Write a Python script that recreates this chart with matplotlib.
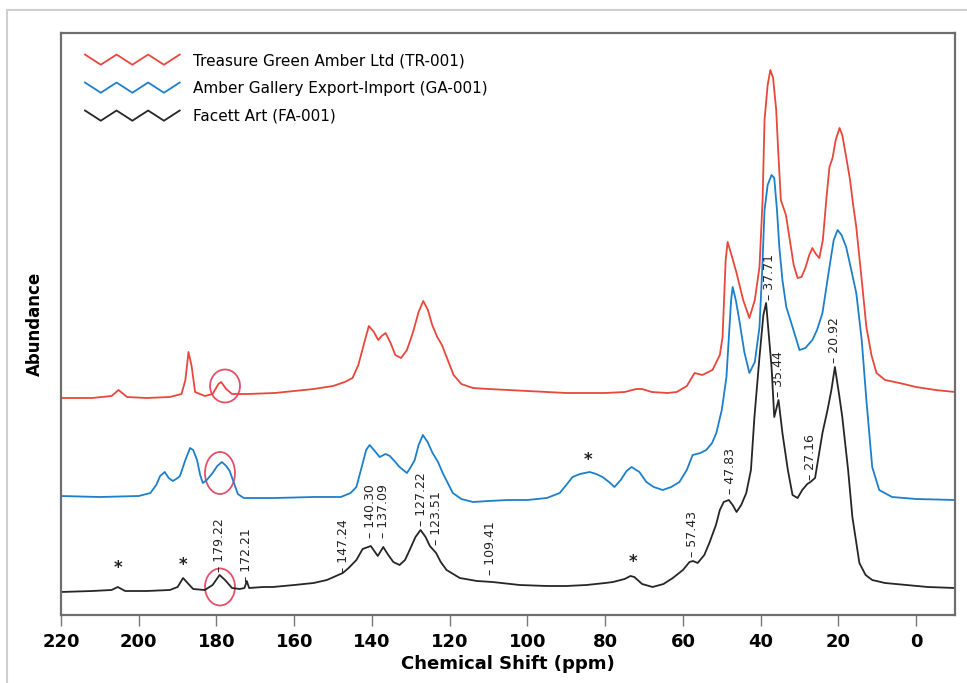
import numpy as np
import matplotlib
matplotlib.use("Agg")
import matplotlib.pyplot as plt
from matplotlib import font_manager
from matplotlib.lines import Line2D
from matplotlib.patches import Ellipse, Rectangle
from matplotlib.legend_handler import HandlerBase

# --- spectra (ppm, relative abundance) ---
red_ppm = [220, 212, 207, 205.2, 203, 198, 192, 189, 188, 187.2, 186.4, 185.5, 183, 181,
           179.5, 178.8, 177.5, 176, 172, 165, 160, 155, 150, 147, 145, 143.5, 142, 140.8,
           139.5, 138.4, 137.5, 136.5, 135.2, 134, 132.5, 131, 129.5, 128, 126.8, 125.6,
           124.5, 123.2, 122, 120.5, 119, 117, 114, 110, 105, 100, 95, 90, 85, 80, 75, 72,
           70.5, 68, 64, 61.6, 59, 57, 55, 52.4, 50.5, 49.8, 49, 48.5, 47.5, 46.2, 44.5,
           42.9, 41.5, 40.3, 39.5, 39, 38.2, 37.5, 36.8, 36, 35.5, 34.8, 34.2, 33.5, 32.5,
           31.5, 30.5, 29.5, 28.5, 27.5, 26.7, 25.8, 24.9, 24, 23, 22.3, 21.5, 20.7, 19.7,
           19, 18, 17, 16.2, 15.4, 14, 12.8, 11.5, 10.2, 8, 4.3, 0, -5, -10]
red_abund = [217, 217, 219, 225, 218, 217, 218, 221, 235, 263, 249, 223, 219, 221,
             231, 233, 226, 221, 221, 222, 224, 226, 229, 233, 237, 250, 272, 289,
             283, 275, 279, 282, 272, 260, 257, 265, 282, 303, 314, 305,
             290, 278, 270, 255, 240, 231, 227, 226, 225, 224, 223, 222, 222, 222, 223, 226,
             226, 223, 222, 223, 229, 242, 240, 245, 260, 278, 355, 373, 360, 342, 315,
             297, 315, 348, 415, 495, 530, 545, 537, 505, 465, 415, 408, 400, 375,
             350, 337, 338, 347, 360, 367, 361, 357, 375, 420, 448, 457, 475, 487,
             480, 458, 435, 410, 388, 335, 288, 260, 242, 235, 232, 228, 225, 223]

blue_ppm = [220, 210, 200, 197, 195.5, 194.5, 193.3, 192.3, 191.2, 190, 189.4, 188, 186.8,
            186, 185, 184.2, 183.5, 182.5, 181, 179.8, 178.6, 177.5, 176.6, 175.5, 174.5,
            173, 165, 155, 148, 145.5, 144, 142.5, 141.5, 140.6, 139.5, 138, 136.5, 135.4,
            134, 132.9, 131, 130, 129, 128, 126.9, 125.7, 124.4, 123, 121.8, 120.5, 119.2,
            117, 114, 110, 105, 100, 95, 91.7, 90, 88.4, 86.5, 84, 82.3, 80.7, 79, 77.6,
            76, 74.5, 73.2, 71.2, 69.4, 67.5, 65.2, 63, 60.9, 59, 57.5, 55.5, 54, 52.5,
            51.4, 50, 48.8, 47.6, 47.2, 46.4, 45.5, 44.2, 42.9, 41.5, 40.3, 39.6, 39, 38.2,
            37.2, 36.5, 35.8, 35.2, 34.4, 33.4, 31.8, 30, 28.5, 26.7, 25.5, 24.1, 23, 22.3,
            21.2, 20.2, 19.2, 18, 16.8, 15.4, 14, 12.8, 11.3, 9.5, 6.2, 0, -10]
blue_abund = [119, 118, 119, 122, 130, 139, 143, 137, 134, 137, 139, 155, 167,
              165, 155, 140, 132, 135, 142, 149, 153, 149, 144, 132, 121,
              117, 117, 118, 118, 122, 128, 150, 165, 170, 165, 158, 161, 159,
              153, 148, 142, 148, 155, 170, 180, 173, 162, 153, 142, 132, 122,
              116, 113, 114, 115, 115, 117, 122, 130, 138, 141, 143, 141, 138, 133, 128,
              135, 144, 148, 143, 133, 128, 125, 128, 133, 145, 160, 162, 165, 172,
              182, 205, 238, 315, 328, 315, 295, 263, 242, 253, 288, 345, 405, 430,
              440, 437, 405, 368, 335, 308, 288, 265, 267, 275, 285, 302, 330, 348,
              375, 385, 380, 368, 347, 322, 275, 215, 148, 125, 118, 116, 115]

black_ppm = [220, 212, 207, 205.4, 203.5, 198, 192, 190, 188.6, 187.2, 186, 183, 181, 179.2,
             177.8, 176, 174, 172.8, 172.2, 171.6, 168, 165.5, 160, 155, 151.6, 147.5, 146,
             144, 142.4, 140.3, 138.5, 137.1, 135.8, 134.5, 132.9, 131.5, 130.3, 128.8,
             127.5, 126.2, 125.1, 123.5, 122.3, 120.8, 117.4, 113, 109, 102, 95, 90, 84.8,
             80, 78, 75, 73.5, 72.5, 70.5, 67.8, 65, 62.6, 60, 58.3, 57.4, 56.2, 54.5, 53.2,
             51.5, 50.5, 49.5, 48.2, 47.2, 46.2, 45, 43.7, 42.5, 41.6, 40.3, 39.3, 38.6,
             37.2, 36.5, 35.4, 34.4, 33, 31.8, 30.5, 29.3, 28, 27.2, 26, 24.1, 22.8, 21.8,
             20.9, 19.8, 19, 17.5, 16.4, 14.6, 13, 11.3, 8, 2.5, -3, -10]
black_abund = [23, 24, 25, 28, 24, 24, 25, 28, 37, 31, 26, 25, 30, 40,
               35, 27, 26, 27, 34, 27, 28, 28, 30, 32, 35, 42, 47,
               55, 66, 69, 59, 68, 60, 53, 50, 55, 65, 78,
               85, 78, 69, 62, 53, 45, 37, 34, 33, 30, 29, 29, 30,
               32, 33, 36, 39, 38, 31, 28, 31, 37, 45, 53, 54, 52, 60, 72,
               90, 105, 113, 115, 110, 103, 110, 122, 145, 198, 258, 300, 312,
               248, 198, 215, 182, 145, 120, 117, 125, 131, 133, 137, 182, 205, 225,
               248, 220, 198, 145, 98, 52, 40, 35, 32, 30, 28, 27]

# peak labels on the Facett Art trace
peak_ppm = [179.22, 172.21, 147.24, 140.30, 137.09, 127.22, 123.51, 109.41,
            57.43, 47.83, 37.71, 35.44, 27.16, 20.92]
peak_height = [43, 33, 42, 77, 77, 89, 70, 40, 58, 121, 315, 218, 135, 252]

# spinning side bands (*)
star_ppm = [205.3, 188.5, 72.8, 84.5]
star_height = [47, 50, 53, 155]

# circled carbonyl region
circle_ppm = [177.8, 179.1, 179.1]
circle_height = [229, 142, 28]
circle_h = [33, 42, 37]

series_names = ["Treasure Green Amber Ltd (TR-001)",
                "Amber Gallery Export-Import (GA-001)",
                "Facett Art (FA-001)"]
colors = ["#e8473b", "#1d7fc9", "#262626"]

names = {f.name for f in font_manager.fontManager.ttflist}
narrow = "Liberation Sans Narrow" if "Liberation Sans Narrow" in names else "DejaVu Sans"
plt.rcParams["font.family"] = [narrow, "DejaVu Sans"]


class ZigzagHandler(HandlerBase):
    # legend glyph drawn as a zigzag like the original figure
    def create_artists(self, legend, orig_handle, xdescent, ydescent,
                       width, height, fontsize, trans):
        n = 6
        xs = np.linspace(0, width, n + 1) - xdescent
        ys = np.where(np.arange(n + 1) % 2 == 0, height, 0.0) - ydescent
        zz = Line2D(xs, ys, color=orig_handle.get_color(),
                    lw=orig_handle.get_linewidth())
        zz.set_transform(trans)
        return [zz]


fig = plt.figure(figsize=(9.67, 6.83), dpi=100)
ax = fig.add_axes([61 / 967, 1 - 615 / 683, 894 / 967, 582 / 683])

handles = []
for ppm, ab, c, name in zip([red_ppm, blue_ppm, black_ppm],
                            [red_abund, blue_abund, black_abund], colors, series_names):
    ln, = ax.plot(ppm, ab, color=c, lw=1.3, label=name)
    handles.append(ln)

for p, h in zip(peak_ppm, peak_height):
    ax.text(p, h, "\u2013 " + f"{p:.2f}", rotation=90, ha="center", va="bottom",
            fontsize=9, color="#222222")

for p, h in zip(star_ppm, star_height):
    ax.text(p, h, "*", ha="center", va="center", fontsize=12, fontweight="bold",
            color="#222222")

for p, h, hh in zip(circle_ppm, circle_height, circle_h):
    ax.add_patch(Ellipse((p, h), width=30 / 3.89, height=hh, fill=False,
                         ec="#e4506a", lw=1.3))

ax.set_xlim(220, -10)
ax.set_ylim(0, 582)
ax.set_xticks(np.arange(220, -1, -20))
ax.set_yticks([])
ax.tick_params(axis="x", direction="out", length=8, width=1, color="#777777",
               pad=5, labelsize=13)
for lab in ax.get_xticklabels():
    lab.set_fontweight("bold")
for s in ax.spines.values():
    s.set_color("#6e6e6e")
    s.set_linewidth(1.6)

ax.set_xlabel("Chemical Shift (ppm)", fontsize=13, fontweight="bold", labelpad=3)
ax.set_ylabel("Abundance", fontsize=12, fontweight="bold", labelpad=12)

ax.legend(handles=handles, handler_map={Line2D: ZigzagHandler()},
          loc="upper left", bbox_to_anchor=(24 / 894, 1 - 20 / 582),
          frameon=False, fontsize=11, handlelength=6.2, handleheight=0.65,
          handletextpad=0.9, labelspacing=0.85, borderpad=0, borderaxespad=0)

fig.add_artist(Rectangle((7 / 967, -0.05), 1.0, 1.05 - 10 / 683,
                         transform=fig.transFigure, fill=False,
                         ec="#cfcfcf", lw=1.5))

fig.savefig("out.png", dpi=100)
